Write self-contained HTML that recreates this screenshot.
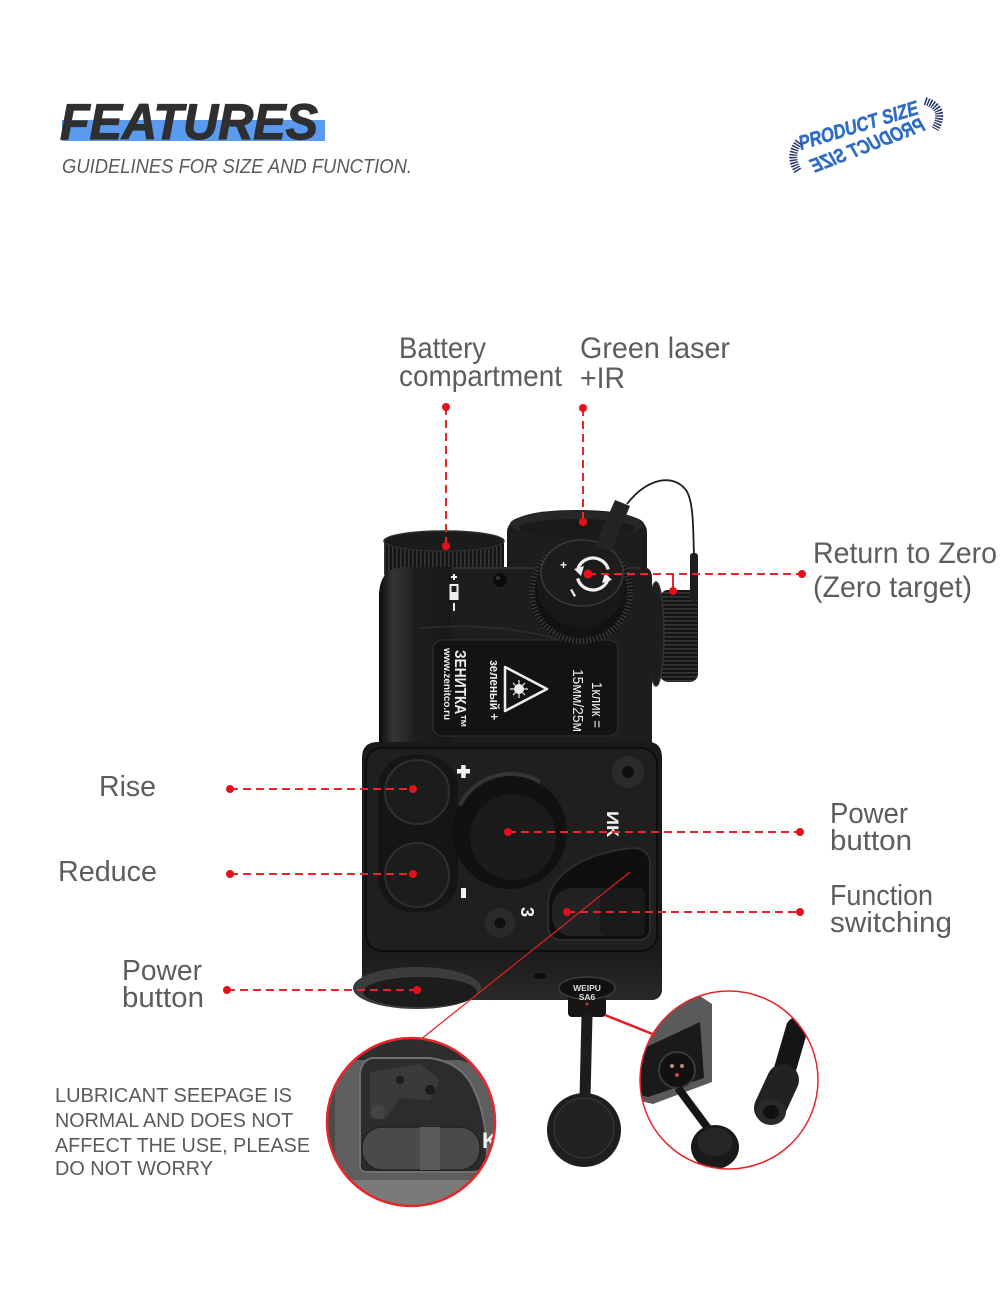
<!DOCTYPE html>
<html><head><meta charset="utf-8">
<style>
html,body{margin:0;padding:0;background:#fff;}
svg{display:block;}
</style></head>
<body>
<svg width="1000" height="1294" viewBox="0 0 1000 1294" xmlns="http://www.w3.org/2000/svg" font-family="'Liberation Sans', Arial, sans-serif">
<defs>
 <pattern id="kv" width="4" height="40" patternUnits="userSpaceOnUse"><rect width="4" height="40" fill="#151515"/><rect width="1.6" height="40" fill="#353535"/></pattern>
 <pattern id="kh" width="40" height="4" patternUnits="userSpaceOnUse"><rect width="40" height="4" fill="#141414"/><rect width="40" height="1.6" fill="#373737"/></pattern>
 <linearGradient id="cyl" x1="379" y1="0" x2="452" y2="0" gradientUnits="userSpaceOnUse">
   <stop offset="0" stop-color="#0b0b0b"/><stop offset="0.2" stop-color="#363636"/><stop offset="0.5" stop-color="#1e1e1e"/><stop offset="1" stop-color="#181818"/>
 </linearGradient>
 <linearGradient id="bot" x1="0" y1="950" x2="0" y2="1002" gradientUnits="userSpaceOnUse">
   <stop offset="0" stop-color="#1a1a1a"/><stop offset="1" stop-color="#2a2a2a"/>
 </linearGradient>
 <clipPath id="cl"><circle cx="411" cy="1122" r="84"/></clipPath>
 <clipPath id="cr"><circle cx="729" cy="1080" r="89"/></clipPath>
</defs>

<!-- Header -->
<rect x="62" y="120" width="263" height="21" fill="#5a9bef"/>
<text x="60" y="139" font-size="50" font-weight="bold" font-style="italic" fill="#2f2f2f" stroke="#2f2f2f" stroke-width="1.2" textLength="258" lengthAdjust="spacingAndGlyphs">FEATURES</text>
<text x="62" y="173" font-size="20.5" font-style="italic" fill="#5a5a5a" textLength="350" lengthAdjust="spacingAndGlyphs">GUIDELINES FOR SIZE AND FUNCTION.</text>

<!-- Product size logo -->
<g fill="#2f6cc6" font-weight="bold" font-style="italic" font-size="20" stroke="#2f6cc6" stroke-width="0.5">
 <text transform="translate(801,150) rotate(-17)" textLength="124" lengthAdjust="spacingAndGlyphs">PRODUCT SIZE</text>
 <text transform="translate(814,173) rotate(-21) scale(-1,1)" x="-120" textLength="120" lengthAdjust="spacingAndGlyphs">PRODUCT SIZE</text>
</g>
<path d="M799 142 Q788 156 798 171" fill="none" stroke="#27386a" stroke-width="8" stroke-dasharray="1.5 1.2"/>
<path d="M925 101 Q947 108 935 129" fill="none" stroke="#27386a" stroke-width="8" stroke-dasharray="1.5 1.2"/>

<!-- Labels -->
<g fill="#5d5d5d" font-size="30">
 <text x="399" y="358" textLength="87" lengthAdjust="spacingAndGlyphs">Battery</text>
 <text x="399" y="386" textLength="163" lengthAdjust="spacingAndGlyphs">compartment</text>
 <text x="580" y="358" textLength="150" lengthAdjust="spacingAndGlyphs">Green laser</text>
 <text x="580" y="388" textLength="45" lengthAdjust="spacingAndGlyphs">+IR</text>
 <text x="813" y="563" textLength="184" lengthAdjust="spacingAndGlyphs">Return to Zero</text>
 <text x="813" y="597" textLength="159" lengthAdjust="spacingAndGlyphs">(Zero target)</text>
</g>
<g fill="#5d5d5d" font-size="29">
 <text x="99" y="796" textLength="57" lengthAdjust="spacingAndGlyphs">Rise</text>
 <text x="58" y="881" textLength="99" lengthAdjust="spacingAndGlyphs">Reduce</text>
 <text x="122" y="980" textLength="80" lengthAdjust="spacingAndGlyphs">Power</text>
 <text x="122" y="1007" textLength="82" lengthAdjust="spacingAndGlyphs">button</text>
 <text x="830" y="823" textLength="78" lengthAdjust="spacingAndGlyphs">Power</text>
 <text x="830" y="850" textLength="82" lengthAdjust="spacingAndGlyphs">button</text>
 <text x="830" y="905" textLength="103" lengthAdjust="spacingAndGlyphs">Function</text>
 <text x="830" y="932" textLength="122" lengthAdjust="spacingAndGlyphs">switching</text>
</g>
<g fill="#5a5a5a" font-size="20">
 <text x="55" y="1102" textLength="237" lengthAdjust="spacingAndGlyphs">LUBRICANT SEEPAGE IS</text>
 <text x="55" y="1127" textLength="238" lengthAdjust="spacingAndGlyphs">NORMAL AND DOES NOT</text>
 <text x="55" y="1152" textLength="255" lengthAdjust="spacingAndGlyphs">AFFECT THE USE, PLEASE</text>
 <text x="55" y="1175" textLength="158" lengthAdjust="spacingAndGlyphs">DO NOT WORRY</text>
</g>

<!-- ===== Device ===== -->
<path d="M507 600 L507 532 Q507 510 577 510 Q647 510 647 532 L647 600 Z" fill="#1d1d1d"/>
<ellipse cx="577" cy="524" rx="67" ry="13" fill="#272727"/>
<ellipse cx="577" cy="528" rx="58" ry="9" fill="#1a1a1a"/>

<rect x="660" y="590" width="38" height="92" rx="8" fill="url(#kh)"/>
<ellipse cx="656" cy="634" rx="8" ry="52" fill="#1e1e1e" stroke="#323232" stroke-width="1.5"/>

<path d="M384 541 L384 574 A60 12 0 0 0 504 574 L504 541 Z" fill="url(#kv)"/>
<ellipse cx="444" cy="541" rx="60" ry="10" fill="#1b1b1b" stroke="#2d2d2d" stroke-width="1.5"/>

<path d="M379 597 Q379 567 405 567 L642 567 Q652 567 652 578 L652 760 L379 760 Z" fill="#1d1d1d"/>
<path d="M379 597 Q379 567 405 567 L451 567 L451 760 L379 760 Z" fill="url(#cyl)"/>
<path d="M451 568 L640 568" stroke="#2e2e2e" stroke-width="2"/>
<path d="M420 628 Q500 622 560 640" stroke="#2a2a2a" stroke-width="2" fill="none"/>

<g fill="#eee">
 <rect x="451" y="576" width="6" height="2"/><rect x="453" y="574" width="2" height="6"/>
 <rect x="449.5" y="584" width="9" height="16" fill="#eee"/>
 <rect x="451.5" y="586" width="5" height="6" fill="#1a1a1a"/>
 <rect x="453" y="603" width="2" height="8"/>
</g>
<circle cx="500" cy="580" r="7" fill="#0b0b0b"/>
<circle cx="498" cy="578" r="2" fill="#333"/>

<rect x="433" y="640" width="185" height="96" rx="9" fill="#131313" stroke="#2a2a2a" stroke-width="1.5"/>
<g fill="#eee">
 <text transform="translate(455,650) rotate(90)" font-size="16" font-weight="bold" textLength="78" lengthAdjust="spacingAndGlyphs">ЗЕНИТКА™</text>
 <text transform="translate(444,648) rotate(90)" font-size="10" font-weight="bold" textLength="72" lengthAdjust="spacingAndGlyphs">www.zenitco.ru</text>
 <text transform="translate(490,660) rotate(90)" font-size="13" font-weight="bold" textLength="60" lengthAdjust="spacingAndGlyphs">зеленый +</text>
 <text transform="translate(592,682) rotate(90)" font-size="15" textLength="46" lengthAdjust="spacingAndGlyphs">1клик =</text>
 <text transform="translate(573,669) rotate(90)" font-size="15" textLength="63" lengthAdjust="spacingAndGlyphs">15мм/25м</text>
</g>
<path d="M505 667 L547 689 L505 711 Z" fill="none" stroke="#eee" stroke-width="2.5" stroke-linejoin="round"/>
<circle cx="519" cy="689" r="5" fill="#eee"/>
<g stroke="#eee" stroke-width="1.2">
 <line x1="510" y1="689" x2="528" y2="689"/><line x1="519" y1="680" x2="519" y2="698"/>
 <line x1="513" y1="683" x2="525" y2="695"/><line x1="513" y1="695" x2="525" y2="683"/>
</g>

<circle cx="581" cy="592" r="52" fill="#121212"/>
<circle cx="581" cy="592" r="49" fill="none" stroke="#383838" stroke-width="6" stroke-dasharray="1.5 2"/>
<circle cx="581" cy="584" r="44" fill="#181818"/>
<ellipse cx="582" cy="573" rx="41" ry="33" fill="#1c1c1c" stroke="#3a3a3a" stroke-width="1.5"/>
<circle cx="593" cy="574" r="16" fill="none" stroke="#f2f2f2" stroke-width="3.2" stroke-dasharray="40 10.3" transform="rotate(200 593 574)"/>
<path d="M574 569 L584 566 L581 576 Z" fill="#f2f2f2"/>
<path d="M612 580 L602 583 L605 573 Z" fill="#f2f2f2"/>
<text x="560" y="569" font-size="12" font-weight="bold" fill="#eee">+</text>
<rect x="572" y="589" width="2.2" height="8" fill="#eee" transform="rotate(-30 573 593)"/>

<path d="M595 546 L615 500 L630 506 L611 552 Z" fill="#242424"/>
<path d="M627 504 C645 480 672 472 686 490 C694 502 693 530 694 556" fill="none" stroke="#1e1e1e" stroke-width="1.8"/>
<rect x="690" y="553" width="8" height="48" rx="3" fill="#1e1e1e"/>

<path d="M362 758 Q362 742 378 742 L648 742 Q662 742 662 758 L662 985 Q662 1000 648 1000 L376 1000 Q362 1000 362 985 Z" fill="#1a1a1a"/>
<rect x="362" y="950" width="300" height="50" rx="10" fill="url(#bot)"/>
<rect x="366" y="748" width="291" height="203" rx="16" fill="#1f1f1f" stroke="#0d0d0d" stroke-width="2"/>
<rect x="378" y="755" width="80" height="157" rx="34" fill="#151515"/>
<circle cx="417" cy="792" r="32" fill="#1c1c1c" stroke="#2f2f2f" stroke-width="2"/>
<circle cx="417" cy="875" r="32" fill="#1c1c1c" stroke="#2f2f2f" stroke-width="2"/>

<circle cx="510" cy="832" r="57" fill="#111"/>
<path d="M460 805 A57 57 0 0 1 540 782" fill="none" stroke="#353535" stroke-width="4"/>
<circle cx="513" cy="837" r="43" fill="#1b1b1b"/>

<circle cx="628" cy="772" r="16" fill="#2a2a2a"/><circle cx="628" cy="772" r="6" fill="#0f0f0f"/>
<circle cx="500" cy="923" r="15" fill="#2a2a2a"/><circle cx="500" cy="923" r="5.5" fill="#0f0f0f"/>

<rect x="457" y="769" width="13" height="4.5" fill="#f2f2f2"/>
<rect x="461.2" y="765" width="4.5" height="13" fill="#f2f2f2"/>
<rect x="461" y="888" width="5" height="10" fill="#f2f2f2"/>
<text transform="translate(521,907) rotate(90)" font-size="18" font-weight="bold" fill="#f2f2f2">3</text>
<text transform="translate(607,811) rotate(90)" font-size="17" font-weight="bold" fill="#f2f2f2" textLength="26" lengthAdjust="spacingAndGlyphs">ИК</text>

<path d="M548 905 C548 872 590 852 632 848 Q648 848 650 862 L650 928 Q650 940 638 940 L562 940 Q548 940 548 925 Z" fill="#0f0f0f" stroke="#2c2c2c" stroke-width="2"/>
<rect x="552" y="888" width="93" height="48" rx="20" fill="#222"/>
<rect x="600" y="888" width="45" height="48" rx="6" fill="#1a1a1a"/>

<ellipse cx="417" cy="988" rx="64" ry="21" fill="#3c3c3c"/>
<ellipse cx="420" cy="992" rx="57" ry="15" fill="#1c1c1c"/>
<ellipse cx="540" cy="976" rx="6" ry="3" fill="#0c0c0c"/>

<rect x="568" y="992" width="38" height="25" rx="4" fill="#161616"/>
<ellipse cx="587" cy="988" rx="28" ry="11" fill="#111" stroke="#3c3c3c" stroke-width="1.5"/>
<text x="587" y="991" font-size="8.5" font-weight="bold" fill="#ddd" text-anchor="middle">WEIPU</text>
<text x="587" y="1000" font-size="8.5" font-weight="bold" fill="#ddd" text-anchor="middle">SA6</text>
<circle cx="587" cy="1004" r="1.5" fill="#c33"/>

<path d="M587 1015 L585 1098" stroke="#1c1c1c" stroke-width="11"/>
<circle cx="584" cy="1130" r="37" fill="#1e1e1e"/>
<circle cx="584" cy="1128" r="30" fill="#222" stroke="#333" stroke-width="1.5"/>

<!-- right magnified circle -->
<g clip-path="url(#cr)">
 <rect x="630" y="980" width="200" height="200" fill="#fff"/>
 <polygon points="636,1063 653,1023 697,994 712,1004 712,1082 653,1104 636,1100" fill="#5a5a5a"/>
 <polygon points="640,1050 700,1022 704,1078 648,1097 640,1095" fill="#1a1a1a"/>
 <circle cx="677" cy="1070" r="18" fill="#111" stroke="#3a3a3a" stroke-width="2"/>
 <circle cx="672" cy="1066" r="2" fill="#b87"/><circle cx="682" cy="1066" r="2" fill="#b87"/><circle cx="677" cy="1075" r="2" fill="#c44"/>
 <path d="M678 1088 L713 1135" stroke="#161616" stroke-width="8"/>
 <ellipse cx="715" cy="1147" rx="24" ry="22" fill="#1a1a1a"/>
 <ellipse cx="715" cy="1142" rx="18" ry="14" fill="#262626"/>
 <path d="M797 1028 L776 1100" stroke="#151515" stroke-width="22" stroke-linecap="round"/>
 <path d="M783 1080 L770 1108" stroke="#222" stroke-width="32" stroke-linecap="round"/>
 <ellipse cx="771" cy="1112" rx="15" ry="13" fill="#2a2a2a"/>
 <ellipse cx="771" cy="1112" rx="8" ry="7" fill="#111"/>
</g>
<circle cx="729" cy="1080" r="89" fill="none" stroke="#e8262a" stroke-width="1.5"/>

<!-- left magnified circle -->
<g clip-path="url(#cl)">
 <rect x="320" y="1030" width="190" height="190" fill="#5e5e5e"/>
 <rect x="320" y="1030" width="190" height="30" fill="#2e2e2e"/>
 <path d="M400 1060 Q460 1048 500 1080 L500 1030 L400 1030 Z" fill="#2e2e2e"/>
 <path d="M360 1167 L360 1073 Q362 1060 372 1058 L430 1058 Q458 1062 470 1082 Q486 1110 487 1153 Q486 1170 475 1172 L368 1172 Q360 1172 360 1167 Z" fill="#2c2c2c" stroke="#707070" stroke-width="2"/>
 <path d="M370 1072 L420 1064 L440 1080 L430 1100 L400 1098 L385 1120 L370 1118 Z" fill="#3a3a3a"/>
 <circle cx="430" cy="1090" r="5" fill="#1a1a1a"/><circle cx="400" cy="1080" r="4" fill="#1a1a1a"/>
 <rect x="362" y="1127" width="118" height="43" rx="20" fill="#4a4a4a" stroke="#222" stroke-width="1.5"/>
 <rect x="420" y="1127" width="20" height="43" fill="#5a5a5a"/>
 <rect x="320" y="1180" width="190" height="40" fill="#7a7a7a"/>
 <rect x="327" y="1050" width="8" height="140" fill="#4a4a4a"/>
 <text x="482" y="1148" font-size="22" font-weight="bold" fill="#f2f2f2">K</text>
 <circle cx="378" cy="1112" r="7" fill="#444"/>
</g>
<circle cx="411" cy="1122" r="84" fill="none" stroke="#e8262a" stroke-width="2.5"/>

<line x1="630" y1="872" x2="420" y2="1040" stroke="#e02020" stroke-width="1.2"/>
<line x1="605" y1="1015" x2="655" y2="1035" stroke="#e02020" stroke-width="2.5"/>

<g stroke="#e8262a" stroke-width="2" stroke-dasharray="8 5" fill="none">
 <line x1="446" y1="407" x2="446" y2="546"/>
 <line x1="583" y1="408" x2="583" y2="522"/>
 <line x1="588" y1="574" x2="802" y2="574"/>
 <line x1="230" y1="789" x2="413" y2="789"/>
 <line x1="230" y1="874" x2="413" y2="874"/>
 <line x1="227" y1="990" x2="417" y2="990"/>
 <line x1="508" y1="832" x2="800" y2="832"/>
 <line x1="567" y1="912" x2="800" y2="912"/>
</g>
<line x1="673" y1="574" x2="673" y2="588" stroke="#e8262a" stroke-width="2"/>
<g fill="#e60f1a">
 <circle cx="446" cy="407" r="4"/><circle cx="446" cy="546" r="4"/>
 <circle cx="583" cy="408" r="4"/><circle cx="583" cy="522" r="4"/>
 <circle cx="588" cy="574" r="4.5"/><circle cx="802" cy="574" r="4"/><circle cx="673" cy="591" r="4"/>
 <circle cx="230" cy="789" r="4"/><circle cx="413" cy="789" r="4"/>
 <circle cx="230" cy="874" r="4"/><circle cx="413" cy="874" r="4"/>
 <circle cx="227" cy="990" r="4"/><circle cx="417" cy="990" r="4"/>
 <circle cx="508" cy="832" r="4"/><circle cx="800" cy="832" r="4"/>
 <circle cx="567" cy="912" r="4"/><circle cx="800" cy="912" r="4"/>
</g>
</svg>
</body>
</html>
